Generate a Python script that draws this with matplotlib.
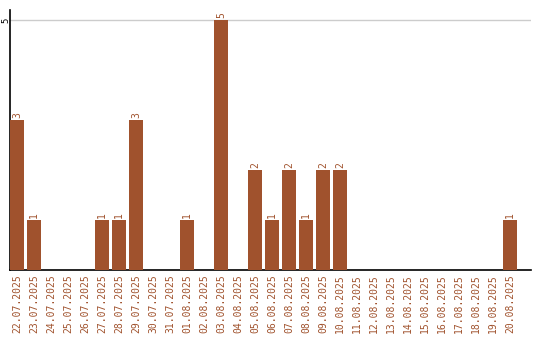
import matplotlib
matplotlib.use("Agg")
import matplotlib.pyplot as plt

dates = ["22.07.2025", "23.07.2025", "24.07.2025", "25.07.2025", "26.07.2025",
         "27.07.2025", "28.07.2025", "29.07.2025", "30.07.2025", "31.07.2025",
         "01.08.2025", "02.08.2025", "03.08.2025", "04.08.2025", "05.08.2025",
         "06.08.2025", "07.08.2025", "08.08.2025", "09.08.2025", "10.08.2025",
         "11.08.2025", "12.08.2025", "13.08.2025", "14.08.2025", "15.08.2025",
         "16.08.2025", "17.08.2025", "18.08.2025", "19.08.2025", "20.08.2025"]
counts = [3, 1, 0, 0, 0, 1, 1, 3, 0, 0,
          1, 0, 5, 0, 2, 1, 2, 1, 2, 2,
          0, 0, 0, 0, 0, 0, 0, 0, 0, 1]

color = "#a0522d"

fig = plt.figure(figsize=(5.4, 3.4), dpi=100)
ax = fig.add_axes([10 / 540, 70 / 340, 521 / 540, 260 / 340])

x = list(range(len(dates)))
ax.bar(x, counts, width=14 / 17, color=color, zorder=3)

# подписи значений над столбцами
for xi, c in zip(x, counts):
    if c > 0:
        ax.text(xi, c + 0.04, str(c), rotation=90, ha="center", va="bottom",
                color=color, fontsize=7, family="DejaVu Sans Mono")

ax.set_xlim(-7 / 17, -7 / 17 + 521 / 17)
ax.set_ylim(0, 5.2)

ax.set_yticks([5])
ax.set_yticklabels(["5"], rotation=90, va="center", ha="center", fontsize=6.5,
                   family="DejaVu Sans Mono")
ax.yaxis.grid(True, color="#cccccc", linewidth=1, zorder=0)
ax.tick_params(axis="y", length=0, pad=3)

ax.set_xticks(x)
ax.set_xticklabels(dates, rotation=90, color=color, fontsize=7,
                   family="DejaVu Sans Mono")
ax.tick_params(axis="x", length=0, pad=3)

for s in ["top", "right"]:
    ax.spines[s].set_visible(False)
for s in ["left", "bottom"]:
    ax.spines[s].set_linewidth(1.2)
    ax.spines[s].set_color("black")

fig.savefig("out.png", dpi=100)
